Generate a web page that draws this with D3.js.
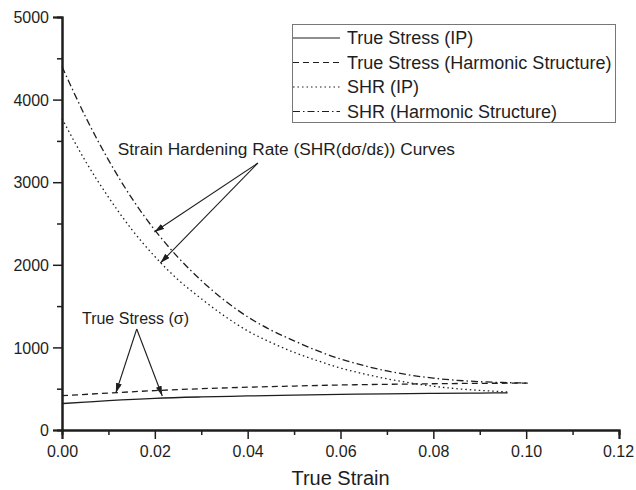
<!DOCTYPE html>
<html><head><meta charset="utf-8">
<script src="https://cdn.jsdelivr.net/npm/d3@7"></script>
<style>body{margin:0;background:#fff;} svg{display:block;font-family:Arial,"Liberation Sans",sans-serif;}</style>
</head><body>
<svg id="c" width="636" height="490"></svg>
<script>
// ---- data ----
const strainTS_IP = [0,0.005,0.01,0.02,0.03,0.04,0.05,0.06,0.07,0.08,0.09,0.096];
const stressTS_IP = [320,338,355,383,400,412,422,431,438,443,447,450];
const strainTS_HS = [0,0.01,0.02,0.03,0.04,0.05,0.06,0.07,0.08,0.09,0.1,0.1005];
const stressTS_HS = [415,447,477,500,518,532,545,553,560,565,568,569];
const strainSHR_IP = [0,0.005,0.01,0.015,0.02,0.025,0.03,0.035,0.04,0.045,0.05,0.055,0.06,0.065,0.07,0.075,0.08,0.085,0.09,0.096];
const shrIP = [3770,3260,2820,2430,2100,1820,1590,1380,1200,1060,940,840,750,680,620,570,530,500,480,460];
const strainSHR_HS = [0,0.005,0.01,0.015,0.02,0.025,0.03,0.035,0.04,0.045,0.05,0.055,0.06,0.065,0.07,0.075,0.08,0.085,0.09,0.095,0.1005];
const shrHS = [4400,3800,3270,2810,2420,2090,1810,1570,1370,1210,1080,960,860,780,715,665,628,602,585,575,568];
const xTicks = [0,0.02,0.04,0.06,0.08,0.10,0.12];
const yTicks = [0,1000,2000,3000,4000,5000];
const legendLabels = ["True Stress (IP)","True Stress (Harmonic Structure)","SHR (IP)","SHR (Harmonic Structure)"];
const xLabel = "True Strain";
const shrNote = "Strain Hardening Rate (SHR(dσ/dε)) Curves";
const tsNote = "True Stress (σ)";
// annotation anchors in data units [strain, value]
const shrNoteAt = [0.012, 3329];
const shrArrowFrom = [0.0422, 3232];
const shrArrowTo = [[0.0199, 2397],[0.0212, 2022]];
const tsNoteAt = [0.0043, 1283];
const tsArrowFrom = [0.0161, 1223];
const tsArrowTo = [[0.0116, 448],[0.0216, 412]];

// ---- chart ----
const svg = d3.select("#c");
const ink = "#1e1e1e";
const x = d3.scaleLinear().domain([0,0.12]).range([62,619]);
const y = d3.scaleLinear().domain([0,5000]).range([430,17]);

svg.append("defs").append("marker").attr("id","ah")
  .attr("viewBox","0 0 10 6").attr("refX",10).attr("refY",3)
  .attr("markerWidth",10).attr("markerHeight",6).attr("markerUnits","userSpaceOnUse")
  .attr("orient","auto")
  .append("path").attr("d","M0,0L10,3L0,6Z").attr("fill",ink);

// minor ticks
const xMinor = d3.axisBottom(x).tickValues(d3.range(0.01,0.12,0.02)).tickSize(5).tickFormat("");
const yMinor = d3.axisLeft(y).tickValues(d3.range(500,5000,1000)).tickSize(5).tickFormat("");
svg.append("g").attr("transform","translate(0,430)").call(xMinor);
svg.append("g").attr("transform","translate(62,0)").call(yMinor);

const xAxis = d3.axisBottom(x).tickValues(xTicks).tickSize(9).tickPadding(4).tickFormat(d3.format(".2f"));
const yAxis = d3.axisLeft(y).tickValues(yTicks).tickSize(9).tickPadding(4).tickFormat(d3.format("d"));
const gx = svg.append("g").attr("transform","translate(0,430)").call(xAxis);
const gy = svg.append("g").attr("transform","translate(62,0)").call(yAxis);
svg.selectAll(".domain").attr("stroke",ink).attr("stroke-width",2);
svg.selectAll(".tick line").attr("stroke",ink).attr("stroke-width",1.5);
svg.selectAll(".tick text").attr("fill",ink).attr("font-size",16).attr("font-family","Arial, 'Liberation Sans', sans-serif");
gx.selectAll(".tick text").attr("dy","0.9em");
gx.selectAll(".tick text").filter(d=>d===0.12).attr("dx",-1);
gy.selectAll(".tick text").attr("dy","0.35em");
svg.append("text").attr("x",x(0.06)).attr("y",485).attr("text-anchor","middle")
  .attr("font-size",20).attr("fill",ink).text(xLabel);

const styles = [
  {dash:null},
  {dash:"6,4"},
  {dash:"1.5,3"},
  {dash:"7,3,1.5,3"}
];
const series = [
  d3.zip(strainTS_IP, stressTS_IP),
  d3.zip(strainTS_HS, stressTS_HS),
  d3.zip(strainSHR_IP, shrIP),
  d3.zip(strainSHR_HS, shrHS)
];
const line = d3.line().x(d=>x(d[0])).y(d=>y(d[1])).curve(d3.curveMonotoneX);
series.forEach((s,i)=>{
  svg.append("path").datum(s).attr("d",line).attr("fill","none")
    .attr("stroke",ink).attr("stroke-width",1.3)
    .attr("stroke-dasharray",styles[i].dash);
});

// annotations
svg.append("text").attr("x",x(shrNoteAt[0])).attr("y",y(shrNoteAt[1]))
  .attr("font-size",17.3).attr("fill",ink).text(shrNote);
shrArrowTo.forEach(t=>{
  svg.append("line").attr("x1",x(shrArrowFrom[0])).attr("y1",y(shrArrowFrom[1]))
    .attr("x2",x(t[0])).attr("y2",y(t[1])).attr("stroke",ink).attr("stroke-width",1.1)
    .attr("marker-end","url(#ah)");
});
svg.append("text").attr("x",x(tsNoteAt[0])).attr("y",y(tsNoteAt[1]))
  .attr("font-size",16).attr("fill",ink).text(tsNote);
tsArrowTo.forEach(t=>{
  svg.append("line").attr("x1",x(tsArrowFrom[0])).attr("y1",y(tsArrowFrom[1]))
    .attr("x2",x(t[0])).attr("y2",y(t[1])).attr("stroke",ink).attr("stroke-width",1.1)
    .attr("marker-end","url(#ah)");
});

// legend
const lg = svg.append("g");
lg.append("rect").attr("x",292.5).attr("y",24.5).attr("width",323).attr("height",98)
  .attr("fill","#fff").attr("stroke","#777").attr("stroke-width",1);
legendLabels.forEach((lab,i)=>{
  const cy = 38 + i*24.5;
  lg.append("line").attr("x1",293).attr("x2",340).attr("y1",cy).attr("y2",cy)
    .attr("stroke",ink).attr("stroke-width",1.1).attr("stroke-dasharray",styles[i].dash);
  lg.append("text").attr("x",347).attr("y",cy).attr("dy","0.35em")
    .attr("font-size",18).attr("fill",ink).text(lab);
});
</script>
</body></html>
